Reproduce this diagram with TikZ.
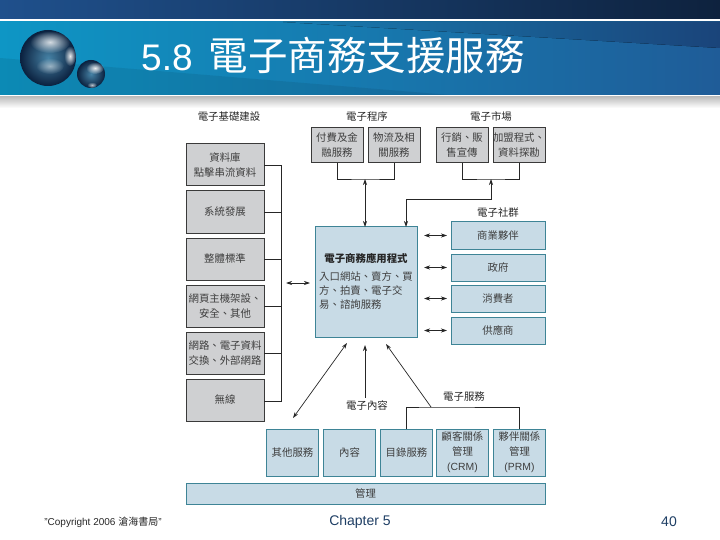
\documentclass[tikz,border=0pt]{standalone}
\usepackage{fontspec}
\usepackage{xcolor}
\setmainfont{Liberation Sans}
\newfontfamily\cjk{Noto Sans CJK TC}
\usetikzlibrary{arrows.meta, positioning, fadings}
\definecolor{bandtop}{RGB}{31,80,140}
\definecolor{banddark}{RGB}{14,34,62}
\definecolor{bandcyan}{RGB}{14,150,197}
\definecolor{bandblue}{RGB}{31,92,152}
\definecolor{wedgestart}{RGB}{24,124,176}
\definecolor{wedgeend}{RGB}{26,68,122}
\definecolor{ballrim}{RGB}{10,32,62}
\definecolor{ballmid}{RGB}{70,130,165}
\definecolor{grayfill}{RGB}{207,208,210}
\definecolor{grayedge}{RGB}{58,58,58}
\definecolor{bluefill}{RGB}{200,219,230}
\definecolor{blueedge}{RGB}{62,132,150}
\definecolor{inktext}{RGB}{62,62,62}
\definecolor{footblue}{RGB}{30,62,100}
\tikzfading[name=softspot, inner color=transparent!0, outer color=transparent!100]
\tikzset{
  block/.style={rectangle, outer sep=0pt, inner sep=0pt, align=center, draw,
    line width=1pt, font=\cjk\fontsize{10.4}{15}\selectfont, text=inktext},
  grayblock/.style={block, fill=grayfill, draw=grayedge, minimum width=78pt, minimum height=42pt},
  topblock/.style={block, fill=grayfill, draw=grayedge, minimum width=52pt, minimum height=35pt},
  commblock/.style={block, fill=bluefill, draw=blueedge, minimum width=94pt, minimum height=27pt},
  servblock/.style={block, fill=bluefill, draw=blueedge, minimum width=52pt, minimum height=47pt},
  grouplabel/.style={font=\cjk\fontsize{10.4}{12}\selectfont, text=black!85},
  arrow/.style={{Stealth[length=6pt,width=4pt]}-{Stealth[length=6pt,width=4pt]}, line width=0.7pt, color=black!85},
  onearrow/.style={-{Stealth[length=6pt,width=4pt]}, line width=0.7pt, color=black!85},
  link/.style={line width=0.9pt, color=black!85},
  glint/.style={white, path fading=softspot},
}
\begin{document}
\begin{tikzpicture}[x=1pt, y=-1pt]
  \useasboundingbox (0,0) rectangle (720,540);
  % header bands
  \fill[left color=bandtop, right color=banddark] (0,0) rectangle (720,19);
  \fill[left color=bandcyan, right color=bandblue] (0,22) rectangle (720,95);
  \fill[left color=wedgestart, right color=wedgeend] (283,22) -- (720,22) -- (720,48) -- cycle;
  \fill[black, opacity=0.08] (0,58) -- (450,95) -- (0,95) -- cycle;
  \fill[top color=black!25, bottom color=white] (0,97) rectangle (720,108);
  \shade[inner color=ballmid, outer color=ballrim] (48,58) circle (28);
  \fill[glint, opacity=0.8] (50,42) ellipse (20 and 11);
  \fill[glint, opacity=0.9] (70,56) ellipse (6 and 10);
  \fill[glint, opacity=0.5] (50,66) ellipse (14 and 8);
  \shade[inner color=ballmid, outer color=ballrim] (91,74) circle (14);
  \fill[glint, opacity=0.9] (95,68) ellipse (9 and 6);
  \fill[glint, opacity=0.7] (92,85) ellipse (5 and 3);
  \node[text=white, inner sep=0pt, font=\fontsize{37}{40}\selectfont, anchor=base west] (title) at (141,71)
    {5.8\hspace{16pt}{\cjk\fontsize{39.5}{40}\selectfont 電子商務支援服務}};

  % left column
  \node[grayblock] (database) at (225,165) {資料庫\\點擊串流資料};
  \node[grayblock, below=5pt of database] (sysdev) {系統發展};
  \node[grayblock, below=5pt of sysdev] (standard) {整體標準};
  \node[grayblock, below=5pt of standard] (hosting) {網頁主機架設、\\安全、其他};
  \node[grayblock, below=5pt of hosting] (network) {網路、電子資料\\交換、外部網路};
  \node[grayblock, below=5pt of network] (wireless) {無線};
  \node[grouplabel] (infralabel) at (229,117) {電子基礎建設};
  \coordinate (railtop) at (281,165);
  \coordinate (railbot) at (281,401);
  \draw[link] (database.east) -- (railtop) -- (railbot) -- (wireless.east |- railbot);
  \foreach \boxname in {sysdev, standard, hosting, network}
    \draw[link] (\boxname.east) -- (\boxname.east -| railtop);

  % top row
  \node[topblock] (payment) at (337,145.5) {付費及金\\融服務};
  \node[topblock, right=5pt of payment] (logistics) {物流及相\\關服務};
  \node[topblock, right=16pt of logistics] (marketing) {行銷、販\\售宣傳};
  \node[topblock, right=5pt of marketing] (affiliate) {加盟程式、\\資料探勘};
  \node[grouplabel] (proclabel) at (367,117) {電子程序};
  \node[grouplabel] (marketlabel) at (491,117) {電子市場};

  % main box
  \node[block, fill=bluefill, draw=blueedge, minimum width=102pt, minimum height=110pt] (main) at (366,282) {};
  \node[font=\cjk\bfseries\fontsize{10.4}{12}\selectfont, text=black!85] (maintitle) at (366,259) {電子商務應用程式};
  \node[font=\cjk\fontsize{10.4}{14}\selectfont, text=inktext, align=left, below=1pt of maintitle] (mainbody)
    {入口網站、賣方、買\\方、拍賣、電子交\\易、諮詢服務};

  % community
  \node[commblock] (partner) at (498,235.5) {商業夥伴};
  \node[commblock, below=5pt of partner] (government) {政府};
  \node[commblock, below=4pt of government] (consumer) {消費者};
  \node[commblock, below=5pt of consumer] (supplier) {供應商};
  \node[grouplabel] (commlabel) at (498,213) {電子社群};

  % bottom row
  \node[servblock] (other) at (292.5,452.5) {其他服務};
  \node[servblock, right=5pt of other] (content) {內容};
  \node[servblock, right=5pt of content] (catalog) {目錄服務};
  \node[servblock, right=4pt of catalog] (crm) {顧客關係\\管理\\{\rmfamily (CRM)}};
  \node[servblock, right=5pt of crm] (prm) {夥伴關係\\管理\\{\rmfamily (PRM)}};
  \node[block, fill=bluefill, draw=blueedge, minimum width=359pt, minimum height=21pt] (manage) at (365.5,493.5) {管理};
  \node[grouplabel] (contentlabel) at (367,406) {電子內容};
  \node[grouplabel] (servlabel) at (464,397) {電子服務};

  % connectors
  \coordinate (procjoin) at (365,179);
  \coordinate (marketjoin) at (491,179);
  \coordinate (marketbend) at (491,199);
  \coordinate (mainin) at (406,199);
  \coordinate (servjoin) at (431,407);
  \draw[link] (payment.south) |- (procjoin) -| (logistics.south);
  \draw[link] (marketing.south) |- (marketjoin) -| (affiliate.south);
  \draw[arrow] (procjoin) -- (main.north -| procjoin);
  \draw[arrow] (marketjoin) -- (marketbend) -- (mainin) -- (main.north -| mainin);

  \coordinate (infraend) at (286,283);
  \coordinate (infrastart) at (310,283);
  \draw[arrow] (infraend) -- (infrastart);
  \foreach \boxname in {partner, government, consumer, supplier}
    \draw[arrow] (424,0 |- \boxname.west) -- (447,0 |- \boxname.west);

  \coordinate (diagtop) at (347,343);
  \coordinate (diagbot) at (293,418);
  \coordinate (contenttop) at (365,345);
  \coordinate (servtop) at (386,344);
  \draw[arrow] (diagtop) -- (diagbot);
  \draw[onearrow] (contentlabel.north -| contenttop) -- (contenttop);
  \draw[onearrow] (servjoin) -- (servtop);
  \draw[link] (catalog.north) |- (servjoin) -| (prm.north);

  % footer
  \node[font=\fontsize{10}{12}\selectfont, text=black!85] (copyright) at (103,522) {"Copyright 2006 {\cjk 滄海書局}"};
  \node[font=\fontsize{14}{16}\selectfont, text=footblue] (chapter) at (360,522) {Chapter 5};
  \node[font=\fontsize{14}{16}\selectfont, text=footblue] (pagenum) at (669,522) {40};
\end{tikzpicture}
\end{document}
